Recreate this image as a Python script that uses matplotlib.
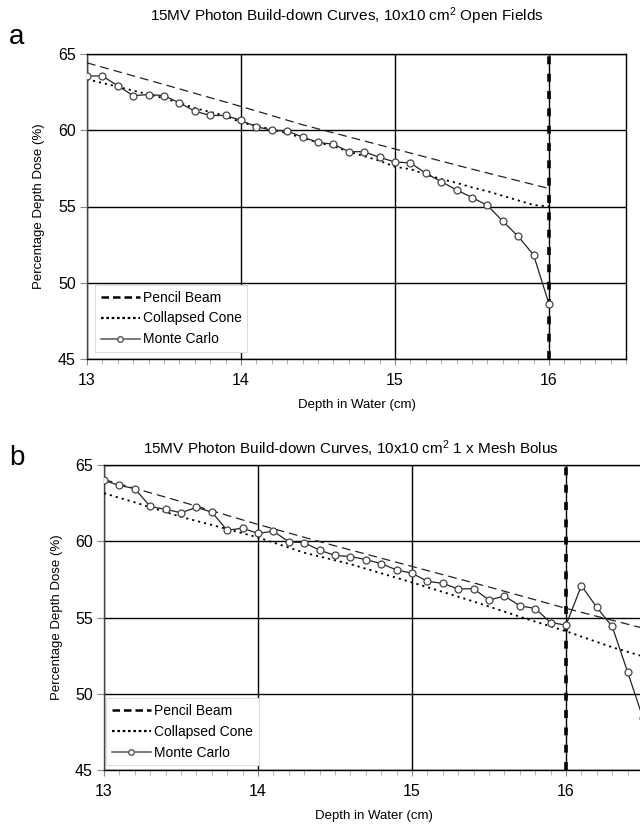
import matplotlib
matplotlib.use("Agg")
import matplotlib.pyplot as plt
from matplotlib.ticker import MultipleLocator
from matplotlib.lines import Line2D

plt.rcParams['font.family'] = ['Liberation Sans', 'DejaVu Sans']

# ---------------- data: panel a (open field) ----------------
a_mc_x = [13.0, 13.1, 13.2, 13.3, 13.4, 13.5, 13.6, 13.7, 13.8, 13.9, 14.0,
          14.1, 14.2, 14.3, 14.4, 14.5, 14.6, 14.7, 14.8, 14.9, 15.0,
          15.1, 15.2, 15.3, 15.4, 15.5, 15.6, 15.7, 15.8, 15.9, 16.0]
a_mc_y = [63.56, 63.56, 62.91, 62.27, 62.34, 62.27, 61.80, 61.25, 60.97, 60.97, 60.64,
          60.23, 60.01, 59.95, 59.55, 59.21, 59.08, 58.60, 58.59, 58.22, 57.92,
          57.86, 57.18, 56.63, 56.09, 55.59, 55.07, 54.04, 53.04, 51.82, 48.61]
a_cc_x = [13.0, 13.1, 13.2, 13.3, 13.4, 13.5, 13.6, 13.7, 13.8, 13.9, 14.0,
          14.1, 14.2, 14.3, 14.4, 14.5, 14.6, 14.7, 14.8, 14.9, 15.0,
          15.1, 15.2, 15.3, 15.4, 15.5, 15.6, 15.7, 15.8, 15.9, 16.0]
a_cc_y = [63.35, 63.10, 62.85, 62.60, 62.35, 62.10, 61.80, 61.45, 61.20, 60.95, 60.50,
          60.30, 60.05, 59.80, 59.50, 59.20, 58.95, 58.60, 58.30, 58.00, 57.60,
          57.45, 57.10, 56.80, 56.55, 56.25, 56.00, 55.70, 55.40, 55.10, 55.00]
a_pb_x = [13.0, 13.5, 14.0, 14.4, 15.0, 15.5, 16.0]
a_pb_y = [64.42, 63.00, 61.56, 60.36, 58.77, 57.45, 56.18]

# ---------------- data: panel b (1 x mesh bolus) ----------------
b_mc_x = [13.0, 13.1, 13.2, 13.3, 13.4, 13.5, 13.6, 13.7, 13.8, 13.9, 14.0,
          14.1, 14.2, 14.3, 14.4, 14.5, 14.6, 14.7, 14.8, 14.9, 15.0,
          15.1, 15.2, 15.3, 15.4, 15.5, 15.6, 15.7, 15.8, 15.9, 16.0,
          16.1, 16.2, 16.3, 16.4, 16.5]
b_mc_y = [63.99, 63.66, 63.45, 62.28, 62.09, 61.87, 62.22, 61.91, 60.72, 60.86, 60.51,
          60.66, 59.96, 59.91, 59.41, 59.07, 59.00, 58.80, 58.53, 58.12, 57.90,
          57.37, 57.24, 56.87, 56.89, 56.14, 56.41, 55.77, 55.59, 54.67, 54.50,
          57.09, 55.66, 54.41, 51.43, 48.40]
b_cc_x = [13.0, 13.2, 13.5, 13.8, 14.0, 14.3, 14.6, 15.0, 15.4, 15.7, 16.0, 16.3, 16.5]
b_cc_y = [63.15, 62.55, 61.60, 60.80, 60.25, 59.25, 58.50, 57.30, 56.05, 55.05, 54.10, 53.05, 52.45]
b_pb_x = [13.0, 13.5, 14.0, 14.5, 15.0, 15.5, 16.0, 16.5]
b_pb_y = [64.05, 62.60, 61.10, 59.70, 58.35, 57.00, 55.60, 54.30]

titles = ["15MV Photon Build-down Curves, 10x10 cm$^{2}$ Open Fields",
          "15MV Photon Build-down Curves, 10x10 cm$^{2}$ 1 x Mesh Bolus"]
panel_letters = ["a", "b"]
xlabel = "Depth in Water (cm)"
ylabel = "Percentage Depth Dose (%)"
series_names = ["Pencil Beam", "Collapsed Cone", "Monte Carlo"]
xticks = [13, 14, 15, 16]
yticks = [45, 50, 55, 60, 65]
interface_depth = 16.0

plt.rcParams['mathtext.fontset'] = 'custom'
plt.rcParams['mathtext.rm'] = 'Liberation Sans'
plt.rcParams['mathtext.it'] = 'Liberation Sans:italic'

W, H = 640, 824
fig = plt.figure(figsize=(W / 100, H / 100), dpi=100)


def rect(l, t, r, b):
    return [l / W, 1 - b / H, (r - l) / W, (b - t) / H]


ax1 = fig.add_axes(rect(87, 54, 626, 359))
ax2 = fig.add_axes(rect(104, 465, 643, 770))

panels = [
    (ax1, a_pb_x, a_pb_y, a_cc_x, a_cc_y, a_mc_x, a_mc_y),
    (ax2, b_pb_x, b_pb_y, b_cc_x, b_cc_y, b_mc_x, b_mc_y),
]

for i, (ax, pbx, pby, ccx, ccy, mcx, mcy) in enumerate(panels):
    ax.set_xlim(13, 16.5)
    ax.set_ylim(45, 65)
    ax.set_xticks(xticks)
    ax.set_yticks(yticks)
    ax.xaxis.set_minor_locator(MultipleLocator(0.1))
    ax.grid(True, which='major', color='black', linewidth=1.0)
    ax.set_axisbelow(True)
    for s in ax.spines.values():
        s.set_color('black')
        s.set_linewidth(1.0)
    ax.spines['left'].set_color('#444444')
    ax.tick_params(axis='x', which='major', direction='out', length=4,
                   width=0.8, color='#888888', labelsize=11.5, pad=6)
    ax.tick_params(axis='x', which='minor', direction='out', length=3.5,
                   width=0.6, color='#aaaaaa')
    ax.tick_params(axis='y', which='major', direction='out', length=5,
                   width=0.8, color='#888888', labelsize=11.5, pad=3)

    # interface line
    ax.axvline(interface_depth, color='black', linewidth=2.6,
               dashes=(2.2, 2.6), zorder=3)

    ax.plot(pbx, pby, color='#222222', linewidth=0.9, dashes=(7, 4), zorder=4)
    ax.plot(ccx, ccy, color='black', linewidth=1.3, dashes=(1.2, 2.2), zorder=4)
    ax.plot(mcx, mcy, color='#222222', linewidth=0.9, marker='o',
            markersize=5, markerfacecolor='white', markeredgecolor='#444444',
            markeredgewidth=0.9, zorder=5, clip_on=True)

    ax.set_title(titles[i], fontsize=11, pad=24 if i == 0 else 8,
                 x=0.482 if i == 0 else 0.458)
    ax.set_xlabel(xlabel, fontsize=9.5, labelpad=8)
    ax.set_ylabel(ylabel, fontsize=9.5)
    ax.yaxis.set_label_coords(-0.078 if i == 0 else -0.076, 0.5)

    handles = [
        Line2D([], [], color='black', linewidth=1.8, dashes=(3, 1.6)),
        Line2D([], [], color='black', linewidth=1.6, dashes=(1.2, 1.2)),
        Line2D([], [], color='#555555', linewidth=1.1, marker='o', markersize=4,
               markerfacecolor='white', markeredgecolor='#555555'),
    ]
    anchor = (0.015, 0.023) if i == 0 else (0.004, 0.016)
    leg = ax.legend(handles, series_names, loc='lower left', bbox_to_anchor=anchor,
                    borderaxespad=0, fontsize=10, frameon=True, fancybox=False,
                    edgecolor='#dddddd', framealpha=1, handlelength=2.8,
                    handletextpad=0.25, labelspacing=0.5, borderpad=0.4)
    leg.get_frame().set_linewidth(0.8)
    leg.set_zorder(10)

fig.text(9 / W, 1 - 37 / H, panel_letters[0], fontsize=20, ha='left', va='center')
fig.text(9 / W, 1 - 458 / H, panel_letters[1], fontsize=20, ha='left', va='center')

fig.savefig("out.png", dpi=100)
